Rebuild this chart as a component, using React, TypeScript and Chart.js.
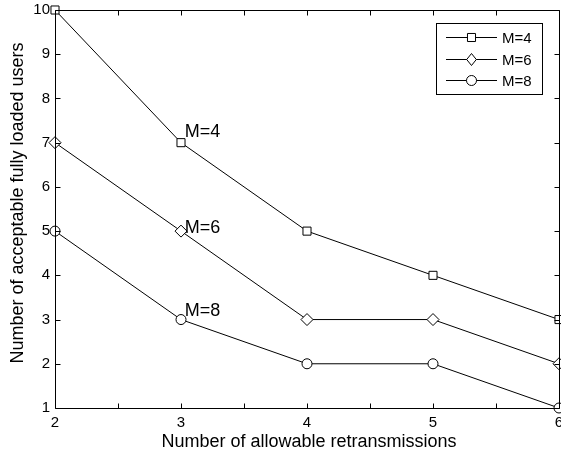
import React, { useEffect, useRef } from 'react';
import { Chart, registerables } from 'chart.js';

Chart.register(...registerables);

const retransmissions = [2, 3, 4, 5, 6];
const usersM4 = [10, 7, 5, 4, 3];
const usersM6 = [7, 5, 3, 3, 2];
const usersM8 = [5, 3, 2, 2, 1];
const seriesLabels = ['M=4', 'M=6', 'M=8'];
const seriesPointStyles = ['rect', 'rectRot', 'circle'];
const seriesPointRadius = [5.7, 6, 5];
const xMinorTicks = [2, 2.5, 3, 3.5, 4, 4.5, 5, 5.5, 6];
const yTickValues = [1, 2, 3, 4, 5, 6, 7, 8, 9, 10];
const annotationLabels = ['M=4', 'M=6', 'M=8'];
const annotationX = [3.03, 3.03, 3.03];
const annotationY = [7.23, 5.07, 3.2];
const xTitle = 'Number of allowable retransmissions';
const yTitle = 'Number of acceptable fully loaded users';

const FONT = '"Liberation Sans", Arial, Helvetica, sans-serif';

export default function App() {
  const ref = useRef<HTMLCanvasElement | null>(null);

  useEffect(() => {
    const canvas = ref.current;
    if (!canvas) return;
    const seriesData = [usersM4, usersM6, usersM8];

    function drawMarker(ctx: CanvasRenderingContext2D, style: string, x: number, y: number, r: number) {
      ctx.beginPath();
      if (style === 'rect') {
        const s = Math.SQRT1_2 * r;
        ctx.rect(x - s, y - s, 2 * s, 2 * s);
      } else if (style === 'rectRot') {
        ctx.moveTo(x, y - r);
        ctx.lineTo(x + r * 0.8, y);
        ctx.lineTo(x, y + r);
        ctx.lineTo(x - r * 0.8, y);
        ctx.closePath();
      } else {
        ctx.arc(x, y, r, 0, Math.PI * 2);
      }
      ctx.fill();
      ctx.stroke();
    }

    const decor = {
      id: 'decor',
      afterDatasetsDraw(chart: any) {
        const ctx = chart.ctx;
        const a = chart.chartArea;
        const xs = chart.scales.x;
        const ys = chart.scales.y;
        ctx.save();
        ctx.strokeStyle = '#000';
        ctx.lineWidth = 1;
        const L = Math.round(a.left) + 0.5;
        const R = Math.round(a.right) + 0.5;
        const T = Math.round(a.top) + 0.5;
        const B = Math.round(a.bottom) + 0.5;
        ctx.beginPath();
        ctx.rect(L, T, R - L, B - T);
        ctx.stroke();
        const tl = 5;
        ctx.beginPath();
        xMinorTicks.forEach((v) => {
          const px = Math.round(xs.getPixelForValue(v)) + 0.5;
          ctx.moveTo(px, B);
          ctx.lineTo(px, B - tl);
          ctx.moveTo(px, T);
          ctx.lineTo(px, T + tl);
        });
        yTickValues.forEach((v) => {
          const py = Math.round(ys.getPixelForValue(v)) + 0.5;
          ctx.moveTo(L, py);
          ctx.lineTo(L + tl, py);
          ctx.moveTo(R, py);
          ctx.lineTo(R - tl, py);
        });
        ctx.stroke();

        // annotations
        ctx.fillStyle = '#000';
        ctx.font = `18px ${FONT}`;
        ctx.textAlign = 'left';
        ctx.textBaseline = 'middle';
        annotationLabels.forEach((t, i) => {
          ctx.fillText(t, xs.getPixelForValue(annotationX[i]), ys.getPixelForValue(annotationY[i]));
        });

        // legend
        const bx = 436.5, by = 23.5, bw = 106, bh = 71;
        ctx.fillStyle = '#fff';
        ctx.fillRect(bx, by, bw, bh);
        ctx.strokeStyle = '#000';
        ctx.strokeRect(bx, by, bw, bh);
        const rowsY = [37.5, 59.5, 80.5];
        ctx.font = `15px ${FONT}`;
        ctx.textBaseline = 'middle';
        seriesLabels.forEach((lab, i) => {
          const y = rowsY[i];
          ctx.beginPath();
          ctx.moveTo(446, y);
          ctx.lineTo(497, y);
          ctx.stroke();
          ctx.fillStyle = '#fff';
          ctx.strokeStyle = '#000';
          drawMarker(ctx, seriesPointStyles[i], 471.5, y, seriesPointRadius[i]);
          ctx.fillStyle = '#000';
          ctx.fillText(lab, 502, y + 1);
        });

        // axis titles
        ctx.fillStyle = '#000';
        ctx.font = `18px ${FONT}`;
        ctx.textAlign = 'center';
        ctx.textBaseline = 'alphabetic';
        ctx.fillText(xTitle, (a.left + a.right) / 2 + 2, 447);
        ctx.save();
        ctx.translate(23, 203);
        ctx.rotate(-Math.PI / 2);
        ctx.fillText(yTitle, 0, 0);
        ctx.restore();
        ctx.restore();
      },
    };

    const chart = new Chart(canvas, {
      type: 'line',
      data: {
        datasets: seriesLabels.map((lab, i) => ({
          label: lab,
          data: retransmissions.map((x, j) => ({ x, y: seriesData[i][j] })),
          borderColor: '#000',
          borderWidth: 1,
          backgroundColor: '#fff',
          pointStyle: seriesPointStyles[i] as any,
          pointRadius: seriesPointRadius[i],
          pointBackgroundColor: '#fff',
          pointBorderColor: '#000',
          pointBorderWidth: 1,
          tension: 0,
          clip: false as any,
        })),
      },
      options: {
        responsive: false,
        animation: false,
        layout: { autoPadding: false, padding: { top: 10, right: 2, left: 0, bottom: 0 } },
        plugins: { legend: { display: false }, tooltip: { enabled: false } },
        scales: {
          x: {
            type: 'linear',
            min: 2,
            max: 6,
            grid: { display: false, drawTicks: false },
            border: { display: false },
            ticks: {
              stepSize: 1,
              color: '#000',
              font: { family: FONT, size: 15 },
              padding: 6,
              maxRotation: 0,
            },
            afterFit(scale: any) {
              scale.height = 44;
              scale.paddingLeft = 0;
              scale.paddingRight = 0;
            },
          },
          y: {
            type: 'linear',
            min: 1,
            max: 10,
            grid: { display: false, drawTicks: false },
            border: { display: false },
            ticks: {
              stepSize: 1,
              color: '#000',
              font: { family: FONT, size: 15 },
              padding: 5,
            },
            afterFit(scale: any) {
              scale.width = 55;
              scale.paddingTop = 0;
              scale.paddingBottom = 0;
            },
          },
        },
      },
      plugins: [decor],
    });
    return () => chart.destroy();
  }, []);

  return (
    <div style={{ position: 'absolute', left: 0, top: 0, width: 561, height: 452, background: '#fff' }}>
      <canvas ref={ref} width={561} height={452} style={{ display: 'block' }} />
    </div>
  );
}
